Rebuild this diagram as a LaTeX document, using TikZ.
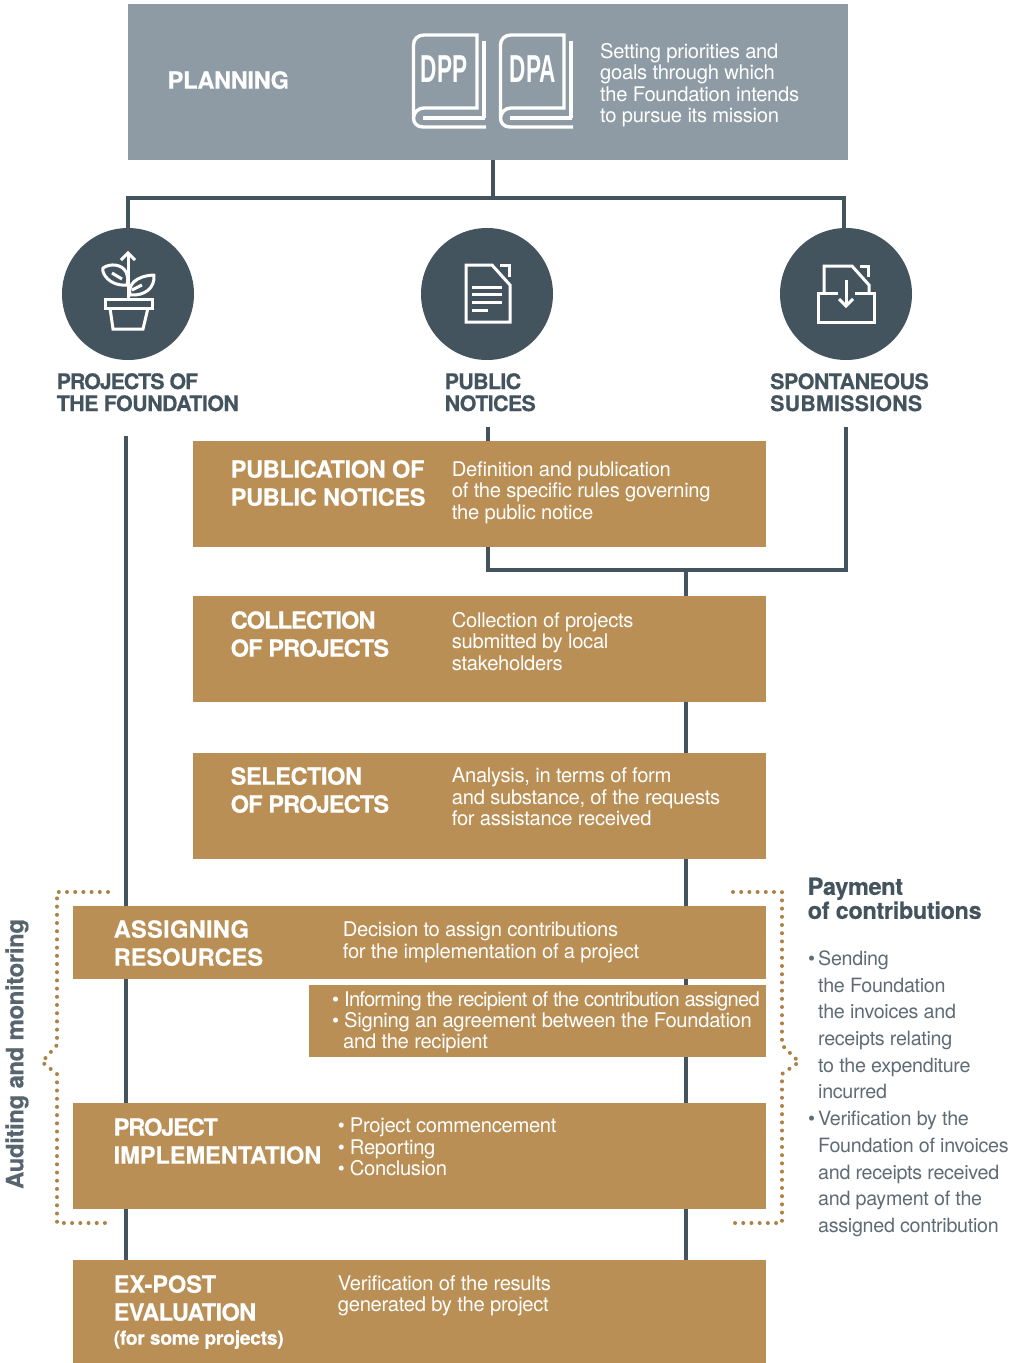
\documentclass[tikz,border=0pt]{standalone}
\usepackage{fontspec}
\setmainfont[LetterSpace=-1.5,BoldFeatures={FakeBold=0.35}]{TeX Gyre Heros}
\newfontfamily\iconfont{Liberation Sans}
\definecolor{slate}{HTML}{44545F}
\definecolor{tanbox}{HTML}{B98F55}
\definecolor{tandot}{HTML}{AD8246}
\definecolor{planbox}{HTML}{8E9BA5}
\definecolor{graytext}{HTML}{5F6C76}
\newcommand{\blt}[1]{\makebox[#1pt][l]{\fontsize{20}{15}\selectfont\textbullet}}
\newcommand{\ls}[2]{{\addfontfeature{LetterSpace=#1}#2}}
\tikzset{
  box/.style={fill=tanbox,draw=none,inner sep=0pt},
  planfill/.style={fill=planbox,draw=none},
  wire/.style={draw=slate,line width=3.1pt},
  titletext/.style={anchor=north west,inner sep=0pt,text=white,align=left,font=\fontsize{23.6}{28}\selectfont\bfseries},
  bodytext/.style={anchor=north west,inner sep=0pt,text=white,align=left,font=\fontsize{20.2}{21.4}\selectfont},
  headtext/.style={anchor=north west,inner sep=0pt,text=slate,align=left,font=\fontsize{21.4}{22}\selectfont\bfseries},
  sidetext/.style={anchor=north west,inner sep=0pt,text=graytext,align=left,font=\fontsize{19.7}{26.7}\selectfont},
  dots/.style={draw=tandot,line width=4pt,line cap=round,dash pattern=on 0pt off 8.2pt},
  icon/.style={draw=white,line width=3pt,line join=miter},
  disc/.style={circle,fill=slate,minimum size=132pt,inner sep=0pt},
  booktext/.style={text=white,inner sep=0pt,xscale=0.58,font=\iconfont\fontsize{39}{39}\selectfont\bfseries}
}
\begin{document}
\begin{tikzpicture}[x=1pt,y=-1pt]
\useasboundingbox (0,0) rectangle (1022,1363);
\fill[white] (0,0) rectangle (1022,1363);

% anchors of the connectors
\coordinate (trunk) at (493,198);
\coordinate (dropA) at (128,228);
\coordinate (dropC) at (844,228);
\coordinate (leftTop) at (126,436);
\coordinate (midTop) at (488,427);
\coordinate (rightTop) at (846,427);
\coordinate (merge) at (686,570);

% planning box
\path[planfill] (128,4) rectangle (848,160);
\coordinate (planning) at (493,82);

% connectors below the boxes
\draw[wire] (planning |- 0,160) -- (trunk);
\draw[wire] (dropA) |- (trunk) -| (dropC);
\draw[wire] (leftTop) -- (126,1260);
\draw[wire] (midTop) -- (488,570) -- (846,570) -- (rightTop);
\draw[wire] (merge) -- (686,1260);

% discs
\node[disc] (c1) at (128,294) {};
\node[disc] (c2) at (487,294) {};
\node[disc] (c3) at (846,294) {};

% tan boxes
\path[box] (193,441) rectangle (766,547);
\path[box] (193,596) rectangle (766,702);
\path[box] (193,753) rectangle (766,859);
\path[box] (73,906) rectangle (766,979);
\path[box] (309,985) rectangle (766,1057);
\path[box] (73,1103) rectangle (766,1209);
\path[box] (73,1260) rectangle (766,1363);

% planning text and books
\node[titletext] (tplan) at (167.5,71) {PLANNING};
\node[bodytext] (dplan) at (600,43) {Setting priorities and\\goals through which\\the Foundation intends\\to pursue its mission};
\foreach \dx/\lab/\tx in {0/DPP/444,87/DPA/446}{
  \begin{scope}[xshift=\dx pt]
    \draw[icon,line width=3.4pt] (423,118) -- (485,118);
    \draw[icon,line width=3.4pt] (484,41) -- (484,118);
    \draw[icon,line width=3.4pt] (486,127) -- (423,127) .. controls (417,127) and (413.5,123) .. (413.5,118) -- (413.5,45) .. controls (413.5,39) and (418,35) .. (424,35) -- (477,35) -- (477,108) -- (424,108) .. controls (418,108) and (413.5,113) .. (413.5,118);
    \node[booktext] at (\tx,69) {\lab};
  \end{scope}
}

% plant icon
\begin{scope}
  \draw[icon] (128,298) -- (128,255);
  \draw[icon] (121,260) -- (128,253) -- (135,260);
  \draw[icon,line join=round] (127,285) .. controls (118,286) and (108,282) .. (104,274) .. controls (102,270) and (103,268) .. (103,268) .. controls (110,263) and (122,264) .. (126,272) .. controls (128,276) and (128,281) .. (127,285) -- cycle;
  \draw[icon,line join=round] (130,295) .. controls (128,285) and (135,276) .. (154,275) .. controls (155,288) and (145,296) .. (130,295) -- cycle;
  \draw[icon] (112,273) -- (122,279);
  \draw[icon] (132,290) -- (142,285);
  \draw[icon] (105,299) rectangle (152,308);
  \draw[icon] (110,308) -- (113,329) -- (143,329) -- (148,308);
\end{scope}

% document icon
\begin{scope}
  \draw[icon] (466,265) -- (492,265) -- (510,285) -- (510,322) -- (466,322) -- cycle;
  \draw[icon] (500,265) -- (509,265) -- (509,277);
  \draw[icon] (472,287) -- (502,287);
  \draw[icon] (472,294.5) -- (502,294.5);
  \draw[icon] (472,302) -- (502,302);
  \draw[icon] (472,310) -- (488,310);
\end{scope}

% inbox icon
\begin{scope}
  \draw[icon] (824,293) -- (824,266) -- (852,266) -- (869,285) -- (869,293);
  \draw[icon] (860,266) -- (868,266) -- (868,277);
  \draw[icon] (838,293) -- (818,293) -- (818,322) -- (874,322) -- (874,293) -- (855,293);
  \draw[icon] (846,280) -- (846,306);
  \draw[icon] (839,299) -- (846,306) -- (853,299);
\end{scope}

% category labels
\node[headtext] (h1) at (56.5,373) {\ls{-5}{PROJECTS OF}\\\ls{-2.5}{THE FOUNDATION}};
\node[headtext] (h2) at (444.5,373) {\ls{-3}{PUBLIC}\\\ls{-3}{NOTICES}};
\node[headtext] (h3) at (770,373) {\ls{-2.3}{SPONTANEOUS}\\\ls{1}{SUBMISSIONS}};

% box text
\node[titletext] (t1) at (230.5,460) {PUBLICATION OF\\PUBLIC NOTICES};
\node[bodytext] (d1) at (451.7,461.5) {Definition and publication\\of the specific rules governing\\the public notice};
\node[titletext] (t2) at (230.5,611) {\ls{-4}{COLLECTION}\\\ls{-3.8}{OF PROJECTS}};
\node[bodytext] (d2) at (451.7,612) {Collection of projects\\submitted by local\\stakeholders};
\node[titletext] (t3) at (230.5,767) {\ls{-2}{SELECTION}\\\ls{-3.8}{OF PROJECTS}};
\node[bodytext] (d3) at (451.7,768) {Analysis, in terms of form\\and substance, of the requests\\for assistance received};
\node[titletext] (t4) at (113.5,920) {\ls{1.3}{ASSIGNING}\\\ls{0}{RESOURCES}};
\node[bodytext] (d4) at (342.7,922) {Decision to assign contributions\\for the implementation of a project};
\node[bodytext] (d5) at (332,991) {\blt{12}\ls{-4}{Informing the recipient of the contribution assigned}\\\blt{12}Signing an agreement between the Foundation\\\hspace*{11pt}and the recipient};
\node[titletext] (t6) at (113.5,1118) {\ls{-5}{PROJECT}\\\ls{-0.3}{IMPLEMENTATION}};
\node[bodytext] (d6) at (337.7,1118) {\blt{12}Project commencement\\\blt{12}Reporting\\\blt{12}Conclusion};
\node[titletext] (t7) at (113.5,1275) {\ls{-0.3}{EX-POST}\\\ls{-2.8}{EVALUATION}\\[-4pt]{\fontsize{19.3}{23}\selectfont(for some projects)}};
\node[bodytext] (d7) at (337.7,1275) {Verification of the results\\generated by the project};

% dotted brackets
\draw[dots] (108,892) -- (57,892) -- (57,1045) -- (42,1062) -- (57,1074) -- (57,1223) -- (108,1223);
\draw[dots] (733,892) -- (782,892) -- (782,1045) -- (799,1062) -- (782,1074) -- (782,1223) -- (733,1223);

% side texts
\node[rotate=90,inner sep=0pt,text=slate!90,font=\fontsize{23.9}{24}\selectfont\bfseries] (audit) at (17,1054) {Auditing and monitoring};
\node[anchor=north west,inner sep=0pt,text=slate,align=left,font=\fontsize{23.5}{24}\selectfont\bfseries] (pay) at (807.5,877.5) {Payment\\of contributions};
\node[sidetext] (paylist) at (808,950.5) {\blt{10}Sending\\\hspace*{10pt}the Foundation\\\hspace*{10pt}the invoices and\\\hspace*{10pt}receipts relating\\\hspace*{10pt}to the expenditure\\\hspace*{10pt}incurred\\\blt{10}Verification by the\\\hspace*{10pt}Foundation of invoices\\\hspace*{10pt}and receipts received\\\hspace*{10pt}and payment of the\\\hspace*{10pt}assigned contribution};
\end{tikzpicture}
\end{document}
